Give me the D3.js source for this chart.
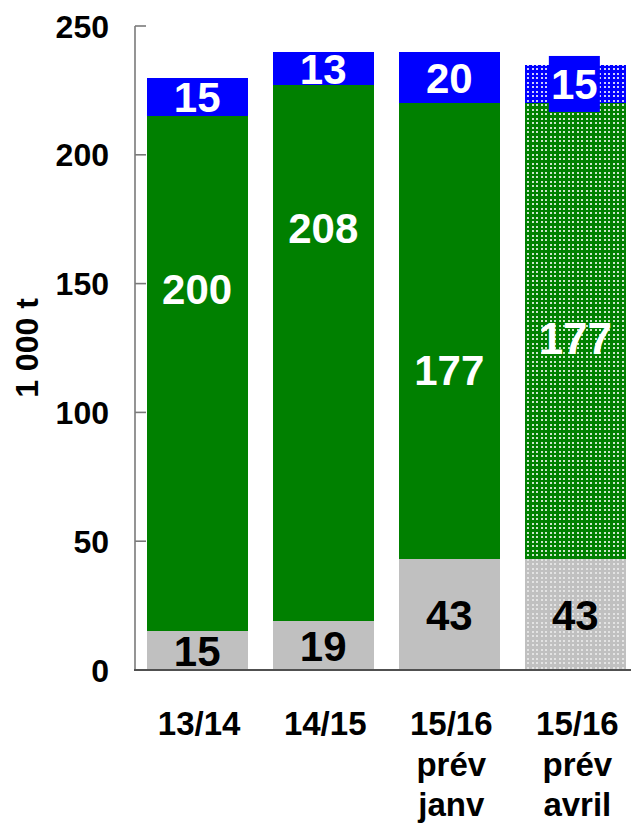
<!DOCTYPE html>
<html>
<head>
<meta charset="utf-8">
<script src="https://cdn.jsdelivr.net/npm/d3@7"></script>
<style>
  html, body { margin: 0; padding: 0; background: #fff; }
  svg { display: block; }
  text { font-family: "Liberation Sans", Arial, sans-serif; font-weight: bold; }
</style>
</head>
<body>
<svg id="chart" width="634" height="827"></svg>
<script>
// Campaign categories (multi-line labels)
const categories = ["13/14", "14/15", "15/16 prév janv", "15/16 prév avril"];
const categoryLines = [["13/14"], ["14/15"], ["15/16", "prév", "janv"], ["15/16", "prév", "avril"]];

// Stacked series values, bottom to top (1 000 t)
const greySeries  = [15, 19, 43, 43];
const greenSeries = [200, 208, 177, 177];
const blueSeries  = [15, 13, 20, 15];

// Where the middle (green) value labels sit, in axis units
const greenLabelAt = [148, 171.6, 116.5, 128.7];

// Which bars are forecasts drawn with a dotted texture
const forecast = [false, false, false, true];

const yTicks = [0, 50, 100, 150, 200, 250];

const svg = d3.select("#chart");

const x = d3.scaleBand()
  .domain(categories)
  .range([135, 637.5])
  .paddingInner(0.2)
  .paddingOuter(0.093);

const y = d3.scaleLinear().domain([0, 250]).range([670, 26]);

// Dotted textures
const defs = svg.append("defs");
function dotPattern(id, base, dot, op) {
  const p = defs.append("pattern")
    .attr("id", id)
    .attr("patternUnits", "userSpaceOnUse")
    .attr("width", 9).attr("height", 9);
  p.append("rect").attr("width", 9).attr("height", 9).attr("fill", base);
  [[1, 1], [5, 1], [1, 5], [5, 5]].forEach(([dx, dy]) => {
    p.append("rect").attr("x", dx).attr("y", dy)
      .attr("width", 2).attr("height", 2).attr("fill", dot).attr("opacity", op);
  });
}
dotPattern("dotGrey", "#c0c0c0", "#ffffff", 0.55);
dotPattern("dotGreen", "#008000", "#ffffff", 0.8);
dotPattern("dotBlue", "#0000ff", "#ffffff", 0.8);

const colors = { grey: "#c0c0c0", green: "#008000", blue: "#0000ff" };
const patterns = { grey: "url(#dotGrey)", green: "url(#dotGreen)", blue: "url(#dotBlue)" };

const seriesKeys = ["grey", "green", "blue"];
const table = categories.map((c, i) => ({
  cat: c, grey: greySeries[i], green: greenSeries[i], blue: blueSeries[i], idx: i
}));
const stacked = d3.stack().keys(seriesKeys)(table);

// Bars
const gBars = svg.append("g");
stacked.forEach(layer => {
  gBars.selectAll(null)
    .data(layer)
    .join("rect")
    .attr("x", d => x(d.data.cat))
    .attr("width", x.bandwidth())
    .attr("y", d => y(d[1]))
    .attr("height", d => y(d[0]) - y(d[1]))
    .attr("fill", d => forecast[d.data.idx] ? patterns[layer.key] : colors[layer.key])
    .attr("shape-rendering", "crispEdges");
});

// Axes
const axisColor = "#7a7a7a";
svg.append("line")
  .attr("x1", 135).attr("x2", 135)
  .attr("y1", y(250)).attr("y2", y(0))
  .attr("stroke", axisColor).attr("stroke-width", 1.6);
svg.append("g").selectAll("line")
  .data(yTicks)
  .join("line")
  .attr("x1", 135).attr("x2", 146)
  .attr("y1", d => y(d)).attr("y2", d => y(d))
  .attr("stroke", axisColor).attr("stroke-width", 1.6);
svg.append("line")
  .attr("x1", 134).attr("x2", 631)
  .attr("y1", y(0)).attr("y2", y(0))
  .attr("stroke", "#505050").attr("stroke-width", 2);

svg.append("g").selectAll("text")
  .data(yTicks)
  .join("text")
  .attr("x", 109)
  .attr("y", d => y(d) + 11.5)
  .attr("text-anchor", "end")
  .attr("font-size", 32)
  .attr("fill", "#000")
  .text(d => d);

// Axis title
svg.append("text")
  .attr("transform", `translate(38, ${(y(0) + y(250)) / 2}) rotate(-90)`)
  .attr("text-anchor", "middle")
  .attr("font-size", 32)
  .attr("fill", "#000")
  .text("1 000 t");

// Category labels
const gCat = svg.append("g");
categoryLines.forEach((lines, i) => {
  const cx = x(categories[i]) + x.bandwidth() / 2 + 2;
  const t = gCat.append("text")
    .attr("text-anchor", "middle")
    .attr("font-size", 33)
    .attr("fill", "#000");
  lines.forEach((ln, k) => {
    t.append("tspan").attr("x", cx).attr("y", 735 + k * 40.5).text(ln);
  });
});

// Value labels
const labelSize = 42;
const gLab = svg.append("g");
table.forEach((d, i) => {
  const cx = x(d.cat) + x.bandwidth() / 2;
  const half = labelSize * 0.358;
  // grey segment: centered
  gLab.append("text")
    .attr("x", cx).attr("y", y(d.grey / 2) + half)
    .attr("text-anchor", "middle").attr("font-size", labelSize)
    .attr("fill", "#000").text(d.grey);
  // green segment
  gLab.append("text")
    .attr("x", cx).attr("y", y(greenLabelAt[i]) + half)
    .attr("text-anchor", "middle").attr("font-size", forecast[i] ? 44 : labelSize)
    .attr("fill", "#fff").text(d.green);
  // blue segment: centered, forecast label gets a solid box
  const by = y(d.grey + d.green + d.blue / 2);
  if (forecast[i]) {
    gLab.append("rect")
      .attr("x", cx - 26.5).attr("y", by - 28)
      .attr("width", 51).attr("height", 56)
      .attr("fill", colors.blue);
  }
  gLab.append("text")
    .attr("x", cx - (forecast[i] ? 1 : 0)).attr("y", by + half)
    .attr("text-anchor", "middle").attr("font-size", labelSize)
    .attr("fill", "#fff").text(d.blue);
});
</script>
</body>
</html>
